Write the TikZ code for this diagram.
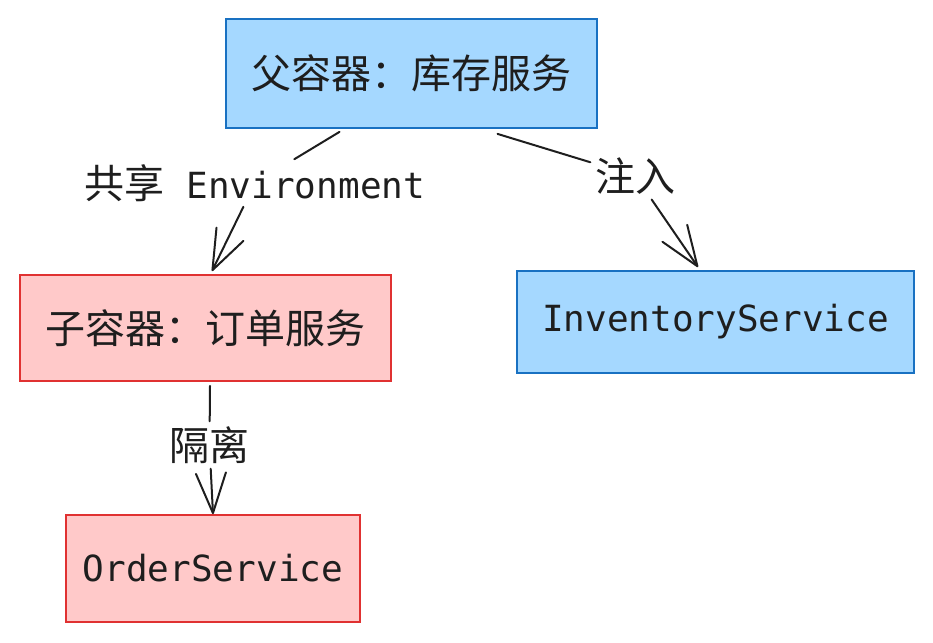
\documentclass[tikz,border=0pt]{standalone}
\usepackage{fontspec}
\setmainfont{DejaVu Sans Mono}
\newfontfamily\cjk{Noto Sans CJK SC}
\usetikzlibrary{arrows.meta}
\definecolor{ink}{HTML}{1E1E1E}
\definecolor{bluefill}{HTML}{A5D8FF}
\definecolor{bluedraw}{HTML}{1971C2}
\definecolor{redfill}{HTML}{FFC9C9}
\definecolor{reddraw}{HTML}{E03131}
\newcommand\zh[1]{{\cjk\fontsize{40}{44}\selectfont #1}}
\begin{document}
\begin{tikzpicture}[x=1pt, y=-1pt,
  every node/.style={text=ink, font=\fontsize{36}{40}\selectfont, inner sep=5pt},
  bluebox/.style={draw=bluedraw, fill=bluefill, line width=1.8pt},
  redbox/.style={draw=reddraw, fill=redfill, line width=1.8pt},
  link/.style={draw=ink, line width=2pt, line cap=round, line join=round},
  head/.style={link, -{Straight Barb[length=40pt, width=30pt, round]}}]
\useasboundingbox (0,0) rectangle (933,642);
\node[bluebox, minimum width=371pt, minimum height=109pt] (aparent) at (411.5, 73.5) {\zh{父容器：库存服务}};
\node[redbox, minimum width=371pt, minimum height=106pt] (achild) at (205.5, 328) {\zh{子容器：订单服务}};
\node[bluebox, minimum width=397pt, minimum height=102pt] (ainv) at (715.5, 322) {InventoryService};
\node[redbox, minimum width=294pt, minimum height=107pt] (aorder) at (213, 568.5) {OrderService};
\node (ashare) at (255, 183) {\zh{共享} Environment};
\node (ainject) at (635.5, 176) {\zh{注入}};
\node (aisolate) at (209.5, 445) {\zh{隔离}};
\draw[link] ([xshift=-72pt, yshift=-3pt]aparent.south) -- (ashare);
\draw[head] (ashare) -- ([xshift=6.5pt, yshift=3pt]achild.north);
\draw[link] ([xshift=86pt, yshift=-5pt]aparent.south) -- (ainject);
\draw[head] (ainject) -- ([xshift=-17.5pt, yshift=3pt]ainv.north);
\draw[link] ([xshift=4.5pt, yshift=-4pt]achild.south) -- (aisolate);
\draw[head] (aisolate) -- (aorder.north);
\end{tikzpicture}
\end{document}
